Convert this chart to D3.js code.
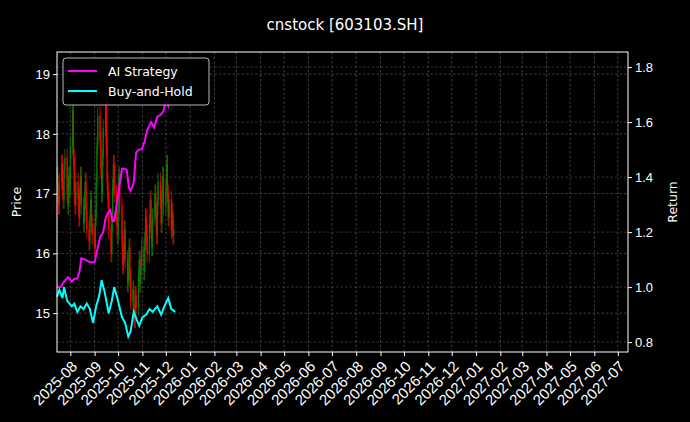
<!DOCTYPE html><html><head><script src="https://cdn.jsdelivr.net/npm/d3@7"></script>
<style>body{margin:0;background:#000}svg{font-family:"DejaVu Sans",sans-serif}</style></head><body><svg id="c" width="690" height="422"></svg>
<script>
const title="cnstock [603103.SH]";
const closes=[17.3,17.0,16.8,17.2,17.5,17.1,16.9,17.4,17.6,17.0,16.8,17.3,17.1,
17.8,18.4,17.6,17.0,16.8,17.2,16.9,16.6,17.0,17.3,16.8,16.5,16.9,17.2,16.7,16.4,16.2,16.6,16.9,16.5,16.3,
16.1,16.6,17.2,17.8,18.3,17.9,17.4,17.0,17.6,18.1,18.5,17.8,17.2,16.9,16.4,16.0,16.5,17.1,17.5,17.0,16.6,16.3,
16.7,17.3,16.8,16.2,15.8,16.0,16.4,15.9,15.5,15.7,16.1,15.6,15.2,15.4,15.0,14.9,15.3,15.1,15.6,15.9,15.5,15.8,16.1,
15.7,16.2,16.6,16.3,16.0,16.5,16.9,16.4,16.1,16.6,17.0,16.7,16.3,16.8,17.2,16.9,16.5,17.0,17.3,16.8,
17.1,17.5,17.0,16.6,16.9,16.4,16.7,16.3,16.4];
const aiDates=["2025-07-15","2025-07-20","2025-07-24","2025-07-27","2025-07-29","2025-08-03","2025-08-06","2025-08-10","2025-08-13","2025-08-15","2025-08-20","2025-08-26","2025-09-01","2025-09-04","2025-09-08","2025-09-12","2025-09-15","2025-09-18","2025-09-21","2025-09-24","2025-09-26","2025-10-06","2025-10-09","2025-10-12","2025-10-15","2025-10-17","2025-10-21","2025-10-24","2025-10-28","2025-10-31","2025-11-04","2025-11-07","2025-11-12","2025-11-16","2025-11-20","2025-11-24","2025-11-28","2025-12-01","2025-12-04","2025-12-08","2025-12-13"];
const aiVals=[1.0,1.0,1.02,1.03,1.036,1.02,1.03,1.03,1.06,1.105,1.1,1.09,1.09,1.13,1.18,1.2,1.25,1.27,1.28,1.24,1.24,1.43,1.43,1.425,1.36,1.35,1.38,1.49,1.5,1.5,1.53,1.57,1.6,1.58,1.62,1.625,1.64,1.68,1.66,1.76,1.82];
const bhDates=["2025-07-15","2025-07-18","2025-07-22","2025-07-24","2025-07-28","2025-08-03","2025-08-06","2025-08-10","2025-08-14","2025-08-18","2025-08-22","2025-08-26","2025-08-30","2025-09-03","2025-09-07","2025-09-10","2025-09-14","2025-09-19","2025-09-23","2025-09-26","2025-09-30","2025-10-06","2025-10-10","2025-10-14","2025-10-17","2025-10-21","2025-10-25","2025-10-28","2025-11-01","2025-11-06","2025-11-10","2025-11-14","2025-11-20","2025-11-25","2025-11-29","2025-12-04","2025-12-06","2025-12-08","2025-12-13"];
const bhVals=[0.965,0.99,0.96,1.0,0.95,0.93,0.94,0.91,0.93,0.92,0.94,0.92,0.87,0.93,0.97,1.025,0.98,0.905,0.95,1.0,0.96,0.89,0.87,0.82,0.84,0.91,0.88,0.86,0.89,0.9,0.92,0.91,0.93,0.9,0.93,0.96,0.94,0.92,0.91];
const yTicksL=[15,16,17,18,19], yTicksR=[0.8,1.0,1.2,1.4,1.6,1.8];
const p=d3.timeParse("%Y-%m-%d");
const days=[];{let d=p("2025-07-15");while(days.length<closes.length){if(d.getDay()%6!==0)days.push(new Date(d));d=d3.timeDay.offset(d,1);}}
const svg=d3.select("#c");
const L=57,R=628,T=52,B=352;
const x=d3.scaleTime().domain([p("2025-07-15"),p("2027-07-14")]).range([L,R]);
const yl=d3.scaleLinear().domain([14.35,19.37]).range([B,T]);
const yr=d3.scaleLinear().domain([0.764,1.855]).range([B,T]);
const months=d3.timeMonth.range(p("2025-08-01"),p("2027-07-02"));
const g=svg.append("g");
g.selectAll(".gv").data(months).join("line").attr("x1",d=>x(d)).attr("x2",d=>x(d)).attr("y1",T).attr("y2",B).attr("stroke","#666").attr("stroke-width",0.6).attr("stroke-dasharray","2.5,2");
g.selectAll(".gh").data(yTicksL).join("line").attr("x1",L).attr("x2",R).attr("y1",d=>yl(d)).attr("y2",d=>yl(d)).attr("stroke","#666").attr("stroke-width",0.6).attr("stroke-dasharray","2.5,2");
g.selectAll(".gr").data(yTicksR).join("line").attr("x1",L).attr("x2",R).attr("y1",d=>yr(d)).attr("y2",d=>yr(d)).attr("stroke","#555").attr("stroke-width",0.6).attr("stroke-dasharray","2.5,2");
const cd=closes.map((c,i)=>{const o=i?closes[i-1]:c;return{d:days[i],o,c,h:Math.max(o,c)+0.15,l:Math.min(o,c)-0.15};});
g.selectAll(".w").data(cd).join("line").attr("x1",d=>x(d.d)).attr("x2",d=>x(d.d)).attr("y1",d=>yl(d.h)).attr("y2",d=>yl(d.l)).attr("stroke",d=>d.c>=d.o?"#008000":"#ff0000").attr("stroke-width",0.8);
g.selectAll(".b").data(cd).join("rect").attr("x",d=>x(d.d)-0.6).attr("width",1.2).attr("y",d=>yl(Math.max(d.o,d.c))).attr("height",d=>Math.max(0.5,Math.abs(yl(d.o)-yl(d.c)))).attr("fill",d=>d.c>=d.o?"#008000":"#ff0000");
const ln=d3.line().x(d=>x(d[0])).y(d=>yr(d[1]));
g.append("path").datum(bhDates.map((d,i)=>[p(d),bhVals[i]])).attr("d",ln).attr("fill","none").attr("stroke","#00ffff").attr("stroke-width",2);
g.append("path").datum(aiDates.map((d,i)=>[p(d),aiVals[i]])).attr("d",ln).attr("fill","none").attr("stroke","#ff00ff").attr("stroke-width",2);
const ax=svg.append("g").attr("transform",`translate(0,${B})`).call(d3.axisBottom(x).tickValues(months).tickFormat(d3.timeFormat("%Y-%m")).tickSize(4).tickSizeOuter(0));
svg.selectAll(".tick line").attr("stroke","#fff");
svg.append("g").attr("transform",`translate(${L},0)`).call(d3.axisLeft(yl).tickValues(yTicksL).tickFormat(d3.format("d")).tickSize(4).tickSizeOuter(0));
svg.append("g").attr("transform",`translate(${R},0)`).call(d3.axisRight(yr).tickValues(yTicksR).tickFormat(d3.format(".1f")).tickSize(4).tickSizeOuter(0));
svg.selectAll(".tick text").attr("fill","#fff").attr("font-size",13).style("font-size","13px");
ax.selectAll("text").attr("transform","translate(0,8) rotate(-45)").attr("text-anchor","end").attr("x",0).attr("y",0).attr("dy","0.7em").style("font-size","15px");
svg.selectAll(".tick line").attr("stroke","#fff");
svg.selectAll(".domain").attr("stroke","none");
svg.append("rect").attr("x",L).attr("y",T).attr("width",R-L).attr("height",B-T).attr("fill","none").attr("stroke","#fff").attr("stroke-width",1);
svg.append("text").attr("x",345).attr("y",30).attr("text-anchor","middle").attr("fill","#fff").style("font-size","15px").text(title);
svg.append("text").attr("transform","translate(21,202) rotate(-90)").attr("text-anchor","middle").attr("fill","#fff").style("font-size","12.5px").text("Price");
svg.append("text").attr("transform","translate(677,202) rotate(-90)").attr("text-anchor","middle").attr("fill","#fff").style("font-size","12.5px").text("Return");
const lg=svg.append("g");
lg.append("rect").attr("x",63).attr("y",58).attr("width",146).attr("height",47).attr("rx",3).attr("fill","#000").attr("stroke","#ccc").attr("opacity",0.9);
[["AI Strategy","#ff00ff"],["Buy-and-Hold","#00ffff"]].forEach((s,i)=>{const yy=71+i*20;lg.append("line").attr("x1",68).attr("x2",97).attr("y1",yy).attr("y2",yy).attr("stroke",s[1]).attr("stroke-width",2);lg.append("text").attr("x",108).attr("y",yy+4.5).attr("fill","#fff").style("font-size","12.5px").text(s[0]);});
</script></body></html>
